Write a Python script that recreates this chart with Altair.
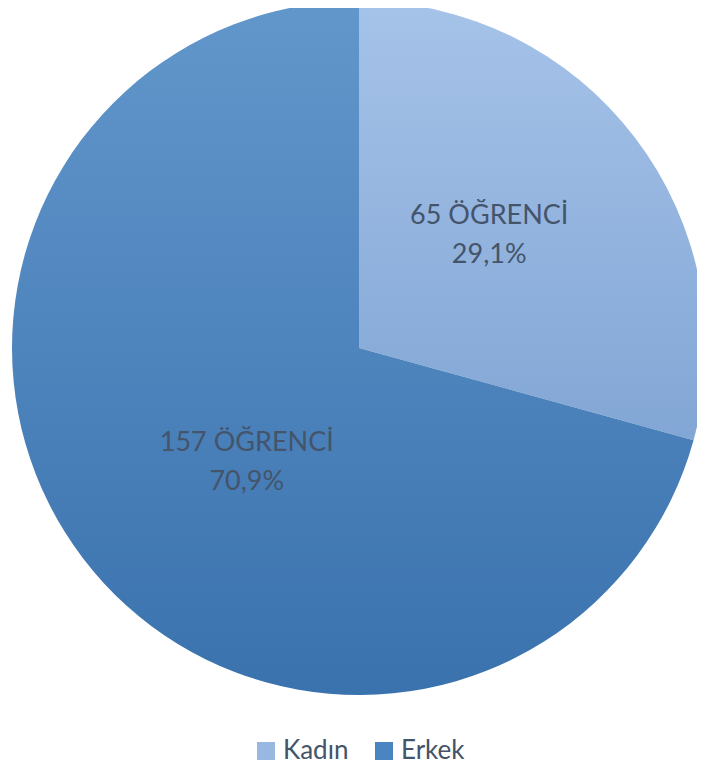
import altair as alt
import pandas as pd

categories = ["Kadın", "Erkek"]
counts = [65, 157]
percent_labels = ["29,1%", "70,9%"]
unit = "ÖĞRENCİ"
order = [0, 1]
legend_colors = ["#98b8e2", "#4a85c1"]

df = pd.DataFrame({
    "cat": categories,
    "count": counts,
    "pct": percent_labels,
    "ord": order,
})
df["label"] = [f"{c} {unit}\n{p}" for c, p in zip(counts, percent_labels)]

grad_k = {"gradient": "linear", "x1": 0, "y1": 0, "x2": 0, "y2": 1,
          "stops": [{"offset": 0, "color": "#a6c3e9"}, {"offset": 1, "color": "#82a6d5"}]}
grad_e = {"gradient": "linear", "x1": 0, "y1": 0, "x2": 0, "y2": 1,
          "stops": [{"offset": 0, "color": "#6297cb"}, {"offset": 1, "color": "#3a72ae"}]}

CX, CY, R = 351, 340, 347
base = alt.Chart(df)

arcs = base.mark_arc(radius=R, stroke=None).encode(
    theta=alt.Theta("count:Q", stack=True),
    order=alt.Order("ord:Q"),
    x=alt.value(CX),
    y=alt.value(CY),
    fill=alt.condition("datum.cat == 'Kadın'", alt.value(grad_k), alt.value(grad_e)),
)


def label_layer(cat, dx, dy):
    return base.mark_text(radius=170, font="Lato", fontSize=27, color="#44546a",
                          lineBreak="\n", lineHeight=39, align="center", baseline="middle",
                          dx=dx, dy=dy).encode(
        theta=alt.Theta("count:Q", stack=True),
        order=alt.Order("ord:Q"),
        x=alt.value(CX),
        y=alt.value(CY),
        text=alt.condition(f"datum.cat == '{cat}'", "label:N", alt.value("")),
    )


texts_k = label_layer("Kadın", -5, -29)
texts_e = label_layer("Erkek", 23, -8)

legend_layer = base.mark_square(opacity=0, size=10).encode(
    x=alt.value(0), y=alt.value(0),
    color=alt.Color("cat:N", scale=alt.Scale(domain=categories, range=legend_colors),
                    sort=categories,
                    legend=alt.Legend(title=None, orient="none", direction="horizontal",
                                      legendX=245, legendY=730,
                                      symbolType="square", symbolSize=324, symbolOpacity=1,
                                      symbolStrokeWidth=0,
                                      labelFont="Lato", labelFontSize=26, labelColor="#44546a",
                                      labelOffset=4, columnPadding=22)),
)

chart = alt.layer(arcs, texts_k, texts_e, legend_layer).properties(
    width=689, height=757,
    autosize=alt.AutoSizeParams(type="none"),
    padding=0,
).configure_view(stroke=None)

chart.save("out.html", embed_options={"renderer": "svg", "actions": False})
